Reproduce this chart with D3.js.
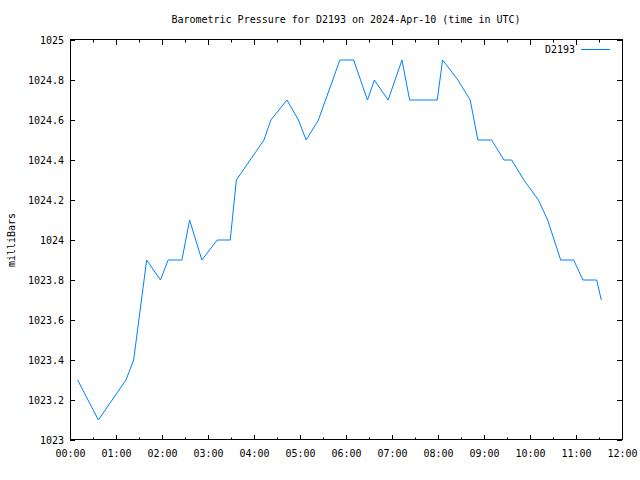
<!DOCTYPE html>
<html>
<head>
<meta charset="utf-8">
<script src="https://cdn.jsdelivr.net/npm/d3@7"></script>
<style>
  body { margin: 0; background: #fff; }
  text { font-family: "DejaVu Sans Mono", monospace; font-size: 10px; fill: #000; }
</style>
</head>
<body>
<div id="chart"></div>
<script>
// datos
var stationName = "D2193";
var times = ["00:10","00:37","01:13","01:23","01:40","01:58","02:08","02:26","02:36","02:52",
  "03:12","03:29","03:37","03:55","04:13","04:22","04:43","04:58","05:08","05:24",
  "05:52","06:10","06:28","06:37","06:55","07:13","07:23","07:59","08:06","08:26",
  "08:42","08:52","09:10","09:26","09:36","09:52","10:11","10:23","10:40","10:57",
  "11:09","11:27","11:33"];
var pressure = [1023.3,1023.1,1023.3,1023.4,1023.9,1023.8,1023.9,1023.9,1024.1,1023.9,
  1024.0,1024.0,1024.3,1024.4,1024.5,1024.6,1024.7,1024.6,1024.5,1024.6,
  1024.9,1024.9,1024.7,1024.8,1024.7,1024.9,1024.7,1024.7,1024.9,1024.8,
  1024.7,1024.5,1024.5,1024.4,1024.4,1024.3,1024.2,1024.1,1023.9,1023.9,
  1023.8,1023.8,1023.7];
var yTicks = [1023, 1023.2, 1023.4, 1023.6, 1023.8, 1024, 1024.2, 1024.4, 1024.6, 1024.8, 1025];

var width = 640, height = 480;
var margin = { top: 40, right: 18, bottom: 40, left: 70 };

function toDate(hhmm) {
  var p = hhmm.split(":");
  return new Date(Date.UTC(2024, 3, 10, +p[0], +p[1]));
}

var dataset = times.map(function (t, i) { return { t: toDate(t), v: pressure[i] }; });

var svg = d3.select("#chart").append("svg")
  .attr("width", width)
  .attr("height", height);

var escalaX = d3.scaleUtc()
  .domain([toDate("00:00"), toDate("12:00")])
  .range([margin.left, width - margin.right]);

var escalaY = d3.scaleLinear()
  .domain([1023, 1025])
  .range([height - margin.bottom, margin.top]);

// titulo
svg.append("text")
  .attr("x", (margin.left + width - margin.right) / 2)
  .attr("y", 23)
  .attr("text-anchor", "middle")
  .text("Barometric Pressure for " + stationName + " on 2024-Apr-10 (time in UTC)");

// etiqueta eje Y
svg.append("text")
  .attr("transform", "translate(15," + ((margin.top + height - margin.bottom) / 2) + ") rotate(-90)")
  .attr("text-anchor", "middle")
  .text("milliBars");

var hourTicks = d3.utcHour.every(1).range(toDate("00:00"), toDate("12:01"));
var halfTicks = d3.utcMinute.every(30).range(toDate("00:00"), toDate("12:01"))
  .filter(function (d) { return d.getUTCMinutes() === 30; });

// ejes con marcas hacia dentro
var ejeX = d3.axisBottom(escalaX).tickValues(hourTicks).tickSize(-5).tickPadding(10)
  .tickFormat(d3.utcFormat("%H:%M"));
svg.append("g")
  .attr("transform", "translate(0," + (height - margin.bottom) + ")")
  .call(ejeX)
  .call(function (g) { g.select(".domain").remove(); });

svg.append("g")
  .attr("transform", "translate(0," + margin.top + ")")
  .call(d3.axisTop(escalaX).tickValues(hourTicks).tickSize(-5).tickFormat(""))
  .call(function (g) { g.select(".domain").remove(); });

// marcas menores cada 30 min
svg.append("g")
  .attr("transform", "translate(0," + (height - margin.bottom) + ")")
  .call(d3.axisBottom(escalaX).tickValues(halfTicks).tickSize(-2.5).tickFormat(""))
  .call(function (g) { g.select(".domain").remove(); });
svg.append("g")
  .attr("transform", "translate(0," + margin.top + ")")
  .call(d3.axisTop(escalaX).tickValues(halfTicks).tickSize(-2.5).tickFormat(""))
  .call(function (g) { g.select(".domain").remove(); });

var ejeY = d3.axisLeft(escalaY).tickValues(yTicks).tickSize(-5).tickPadding(6)
  .tickFormat(function (d) { return +d.toFixed(1) + ""; });
svg.append("g")
  .attr("transform", "translate(" + margin.left + ",0)")
  .call(ejeY)
  .call(function (g) { g.select(".domain").remove(); });

svg.append("g")
  .attr("transform", "translate(" + (width - margin.right) + ",0)")
  .call(d3.axisRight(escalaY).tickValues(yTicks).tickSize(-5).tickFormat(""))
  .call(function (g) { g.select(".domain").remove(); });

svg.selectAll(".tick text").style("font-family", "DejaVu Sans Mono, monospace").style("font-size", "10px");
svg.selectAll(".tick line").attr("stroke", "#000");

// marco
svg.append("rect")
  .attr("x", margin.left + 0.5)
  .attr("y", margin.top - 0.5)
  .attr("width", width - margin.right - margin.left)
  .attr("height", height - margin.bottom - margin.top)
  .attr("fill", "none")
  .attr("stroke", "#000")
  .attr("stroke-width", 1);

// linea de presion
var line = d3.line()
  .x(function (d) { return escalaX(d.t); })
  .y(function (d) { return escalaY(d.v); });

svg.append("path")
  .datum(dataset)
  .attr("fill", "none")
  .attr("stroke", "#0080ff")
  .attr("stroke-width", 1)
  .attr("d", line);

// leyenda
svg.append("text")
  .attr("x", 575)
  .attr("y", 53)
  .attr("text-anchor", "end")
  .text(stationName);
svg.append("line")
  .attr("x1", 581).attr("x2", 610)
  .attr("y1", 49.5).attr("y2", 49.5)
  .attr("stroke", "#0080ff")
  .attr("stroke-width", 1);
</script>
</body>
</html>
